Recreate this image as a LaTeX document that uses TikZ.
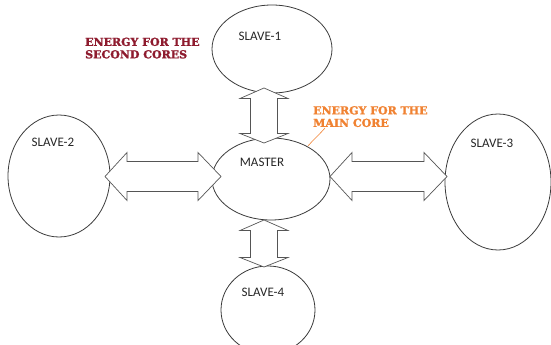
\documentclass[tikz,border=0pt]{standalone}
\usepackage{fontspec}
\setmainfont{Carlito}
\newfontfamily\slabfont[FakeBold=1.6]{DejaVu Serif Bold}
\usetikzlibrary{calc}
\definecolor{darkred}{HTML}{8E1B2E}
\definecolor{energyorange}{HTML}{F08232}
\definecolor{linegray}{HTML}{3A3A3A}
\definecolor{arrowgray}{HTML}{555555}
\tikzset{
  unit/.style={draw=linegray, line width=0.8pt},
  lbl/.style={text=black!85, font=\fontsize{13}{15}\selectfont, inner sep=0pt},
  energy/.style={font=\slabfont\fontsize{11}{12.5}\selectfont, align=left, inner sep=0pt, anchor=north west},
  fatarrow/.style={draw=arrowgray, fill=white, line width=0.7pt, line join=miter},
}
% vertical double arrow between coordinates #1 (top tip) and #2 (bottom tip)
\newcommand\vfat[2]{%
  \draw[fatarrow] (#1) -- ($(#1)+(-24,10.5)$) -- ($(#1)+(-13.5,10.5)$)
    -- ($(#2)+(-13.5,-9.5)$) -- ($(#2)+(-24,-9.5)$) -- (#2)
    -- ($(#2)+(24,-9.5)$) -- ($(#2)+(13.5,-9.5)$)
    -- ($(#1)+(13.5,10.5)$) -- ($(#1)+(24,10.5)$) -- cycle;}
% horizontal double arrow between coordinates #1 (left tip) and #2 (right tip)
\newcommand\hfat[2]{%
  \draw[fatarrow] (#1) -- ($(#1)+(22,-24)$) -- ($(#1)+(22,-15)$)
    -- ($(#2)+(-23,-15)$) -- ($(#2)+(-23,-24)$) -- (#2)
    -- ($(#2)+(-23,24)$) -- ($(#2)+(-23,15)$)
    -- ($(#1)+(22,15)$) -- ($(#1)+(22,24)$) -- cycle;}
\begin{document}
\begin{tikzpicture}[x=1pt,y=-1pt]
\useasboundingbox (0,0) rectangle (551,345);
\clip (0,0) rectangle (551,345);
% units
\coordinate (s1) at (272,49);
\coordinate (s2) at (59,176);
\coordinate (m) at (271,179);
\coordinate (s3) at (498,182);
\coordinate (s4) at (268,310);
\draw[unit] (s1) ellipse [x radius=60, y radius=44];
\draw[unit] (s2) ellipse [x radius=51, y radius=61];
\draw[unit] (m) ellipse [x radius=59, y radius=41];
\draw[unit] (s3) ellipse [x radius=53, y radius=68];
\draw[unit] (s4) ellipse [x radius=47, y radius=44];
% labels
\node[lbl] (t1) at (260,36) {SLAVE-1};
\node[lbl] (t2) at (53,142) {SLAVE-2};
\node[lbl] (tm) at (262,162) {MASTER};
\node[lbl] (t3) at (492,143) {SLAVE-3};
\node[lbl] (t4) at (263,292) {SLAVE-4};
% arrow tips
\coordinate (a1) at (264,88);
\coordinate (a2) at (264,143);
\coordinate (b1) at (264,220);
\coordinate (b2) at (264,267);
\coordinate (c1) at (105,176.5);
\coordinate (c2) at (221,176.5);
\coordinate (d1) at (330,176.5);
\coordinate (d2) at (447,176.5);
\vfat{a1}{a2}
\vfat{b1}{b2}
\hfat{c1}{c2}
\hfat{d1}{d2}
% energy labels
\node[energy, text=darkred] (e2) at (85,37.5) {ENERGY FOR THE\\SECOND CORES};
\node[energy, text=energyorange] (e1) at (313,106) {ENERGY FOR THE\\MAIN CORE};
\coordinate (ep) at (308,146);
\draw[energyorange, line width=0.6pt] (325,128) .. controls (318,136) and (312,141) .. (ep);
\end{tikzpicture}
\end{document}
